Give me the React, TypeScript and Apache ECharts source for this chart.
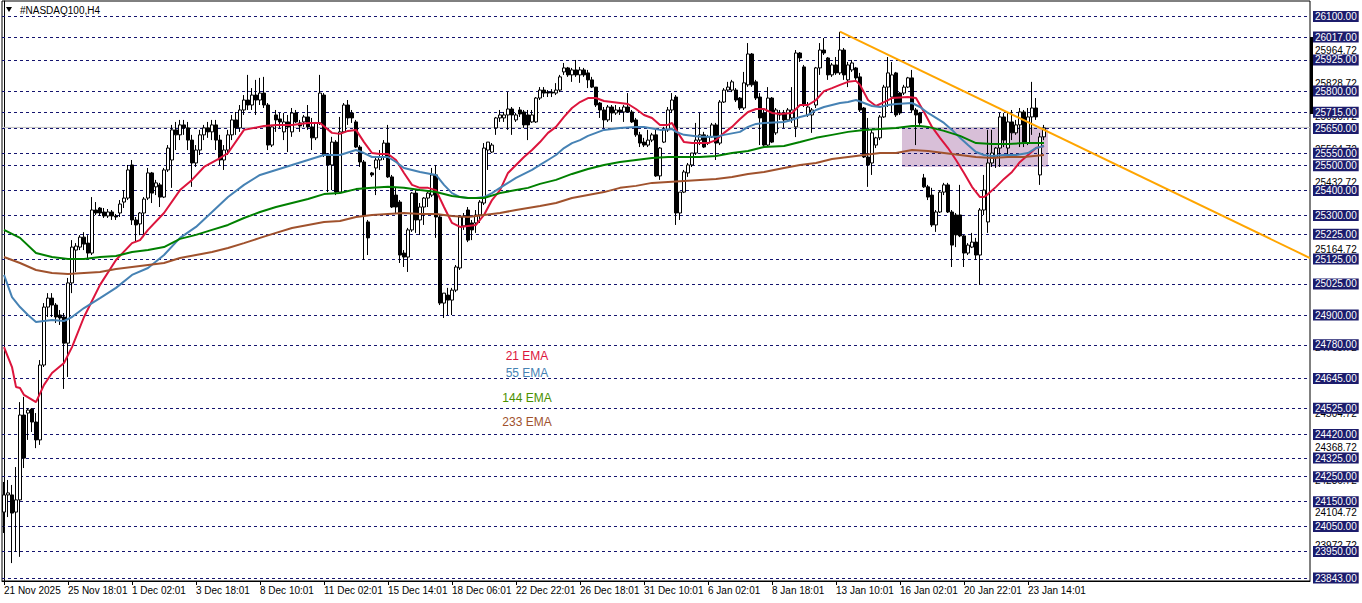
import React, { useEffect, useRef } from "react";
import * as echarts from "echarts";

const FONT = "Liberation Sans";

const xLabels = ["21 Nov 2025", "25 Nov 18:01", "1 Dec 02:01", "3 Dec 18:01", "8 Dec 10:01", "11 Dec 02:01", "15 Dec 14:01", "18 Dec 06:01", "22 Dec 22:01", "26 Dec 18:01", "31 Dec 10:01", "6 Jan 02:01", "8 Jan 18:01", "13 Jan 10:01", "16 Jan 02:01", "20 Jan 22:01", "23 Jan 14:01"];

const opens = [24108,24177,24177,24108,24157,24498,24506,24522,24470,24398,24699,24932,24968,24940,24900,24892,24787,25029,25161,25173,25213,25189,25149,25322,25330,25314,25298,25314,25298,25310,25354,25370,25503,25282,25266,25310,25370,25471,25415,25423,25374,25483,25523,25644,25624,25664,25652,25603,25511,25563,25624,25652,25636,25664,25603,25523,25563,25624,25684,25652,25724,25764,25744,25784,25764,25792,25744,25583,25704,25688,25636,25676,25636,25712,25672,25676,25696,25656,25612,25672,25784,25543,25503,25595,25394,25636,25744,25712,25676,25575,25515,25274,25471,25491,25523,25535,25591,25455,25382,25354,25149,25133,25242,25390,25282,25334,25370,25382,25463,25294,24948,24980,24960,25000,25089,25258,25322,25270,25270,25302,25350,25563,25555,25652,25692,25692,25704,25728,25684,25724,25716,25704,25676,25676,25772,25804,25796,25796,25792,25804,25877,25893,25865,25885,25865,25885,25873,25845,25816,25752,25724,25684,25736,25712,25724,25716,25736,25716,25684,25624,25595,25583,25603,25624,25459,25595,25644,25724,25776,25310,25394,25471,25503,25551,25603,25624,25591,25616,25664,25591,25756,25804,25804,25804,25772,25732,25825,25949,25837,25776,25712,25583,25772,25632,25704,25712,25684,25692,25656,25953,25897,25704,25704,25744,25893,25965,25933,25865,25905,25873,25965,25845,25885,25893,25857,25732,25535,25511,25583,25612,25696,25816,25776,25873,25792,25792,25816,25853,25724,25712,25451,25415,25382,25262,25314,25394,25423,25314,25302,25302,25218,25149,25173,25193,25141,25322,25274,25511,25535,25571,25696,25571,25676,25632,25664,25716,25591,25696,25732,25463,25616];
const closes = [24177,24185,24104,24157,24498,24325,24518,24470,24398,24699,24932,24968,24940,24892,24888,24787,25029,25173,25177,25213,25185,25149,25322,25310,25310,25298,25314,25298,25294,25346,25370,25483,25282,25262,25310,25366,25471,25390,25431,25374,25483,25571,25644,25624,25664,25652,25603,25511,25563,25624,25652,25636,25664,25603,25523,25563,25624,25684,25652,25724,25764,25744,25784,25764,25792,25744,25583,25656,25684,25676,25676,25656,25712,25676,25660,25696,25656,25612,25672,25792,25543,25503,25595,25394,25636,25744,25692,25692,25575,25515,25302,25210,25463,25523,25535,25591,25455,25334,25334,25141,25133,25242,25390,25282,25334,25370,25390,25463,25294,24948,24988,24960,25000,25093,25294,25298,25201,25242,25302,25354,25571,25595,25583,25692,25704,25704,25728,25704,25704,25708,25664,25664,25704,25772,25804,25792,25792,25792,25804,25857,25893,25865,25885,25865,25885,25865,25845,25816,25744,25724,25684,25736,25712,25724,25716,25736,25716,25676,25624,25591,25583,25603,25624,25459,25571,25644,25724,25764,25310,25394,25475,25503,25551,25603,25624,25575,25616,25664,25591,25756,25804,25816,25837,25764,25732,25833,25949,25825,25772,25692,25583,25772,25595,25724,25712,25684,25724,25724,25953,25933,25744,25736,25724,25893,25965,25953,25865,25905,25873,25965,25865,25905,25913,25853,25724,25535,25503,25632,25612,25696,25816,25873,25865,25704,25712,25816,25853,25724,25704,25672,25415,25374,25262,25314,25394,25423,25314,25181,25222,25218,25149,25181,25193,25141,25322,25402,25511,25551,25571,25696,25603,25676,25632,25664,25716,25591,25696,25732,25696,25616,25652];
const highs = [24229,24237,24217,24289,24550,24571,24526,24526,24506,24719,24948,24988,24988,24948,24920,24908,25049,25201,25189,25221,25233,25221,25374,25354,25334,25330,25326,25322,25306,25362,25402,25503,25523,25294,25314,25374,25491,25475,25443,25431,25491,25583,25664,25676,25684,25684,25676,25624,25583,25644,25664,25676,25684,25684,25624,25583,25644,25704,25716,25744,25784,25865,25812,25845,25853,25857,25752,25664,25724,25712,25712,25704,25732,25724,25684,25704,25744,25692,25676,25865,25792,25551,25616,25603,25696,25752,25764,25724,25684,25583,25523,25282,25475,25531,25563,25603,25664,25463,25411,25362,25161,25250,25394,25402,25350,25374,25394,25491,25503,25302,24988,25009,25009,25101,25302,25310,25334,25282,25322,25362,25591,25595,25591,25696,25724,25716,25796,25736,25712,25736,25724,25724,25724,25776,25816,25816,25804,25808,25832,25865,25913,25897,25893,25925,25897,25893,25885,25857,25816,25756,25736,25744,25744,25744,25736,25744,25792,25724,25692,25636,25612,25644,25632,25644,25575,25656,25736,25792,25784,25394,25483,25511,25551,25672,25712,25636,25624,25672,25672,25764,25812,25837,25845,25812,25776,25877,25993,25953,25845,25792,25724,25816,25776,25732,25724,25724,25732,25816,25965,25957,25905,25756,25732,25897,25993,26013,25937,25913,25937,26038,25973,25917,25925,25897,25873,25736,25692,25644,25616,25704,25825,25937,25917,25877,25796,25825,25857,25885,25732,25716,25467,25423,25411,25322,25402,25431,25431,25322,25310,25423,25222,25189,25230,25210,25330,25463,25644,25644,25575,25712,25712,25712,25724,25684,25732,25724,25732,25837,25772,25632,25664];
const lows = [24024,24088,23903,23948,23928,24285,24398,24430,24365,24378,24691,24892,24892,24868,24860,24603,24651,24988,25073,25161,25161,25129,25141,25302,25298,25290,25290,25282,25282,25294,25330,25362,25262,25193,25221,25213,25362,25350,25382,25334,25370,25475,25411,25563,25603,25624,25563,25415,25495,25543,25603,25612,25603,25563,25503,25483,25543,25603,25624,25636,25704,25724,25724,25704,25744,25732,25563,25575,25636,25652,25603,25555,25616,25672,25636,25656,25644,25563,25603,25664,25535,25394,25402,25382,25390,25632,25664,25672,25571,25495,25121,25141,25455,25382,25483,25523,25451,25330,25310,25109,25093,25073,25234,25230,25222,25262,25334,25374,25210,24940,24888,24900,24900,24992,25081,25242,25193,25201,25230,25270,25342,25483,25551,25624,25676,25676,25644,25624,25676,25696,25652,25603,25672,25672,25764,25776,25776,25776,25784,25796,25865,25857,25837,25857,25833,25857,25812,25812,25736,25692,25652,25676,25676,25704,25704,25676,25712,25672,25616,25575,25575,25575,25595,25455,25443,25591,25636,25712,25262,25282,25390,25455,25495,25543,25583,25571,25583,25612,25523,25583,25752,25796,25796,25756,25724,25724,25817,25817,25764,25583,25575,25575,25591,25624,25684,25652,25676,25672,25615,25917,25736,25696,25632,25732,25865,25945,25845,25857,25865,25865,25845,25816,25877,25845,25716,25531,25415,25463,25571,25603,25692,25736,25712,25696,25704,25784,25812,25712,25583,25664,25411,25362,25254,25234,25310,25382,25310,25093,25173,25213,25093,25141,25169,25121,25021,25302,25230,25495,25491,25495,25575,25535,25603,25624,25575,25575,25583,25624,25684,25423,25603];

const ema21 = [[0,24771],[2,24691],[3,24611],[4,24607],[5,24579],[8,24550],[10,24619],[12,24667],[15,24707],[17,24771],[20,24892],[24,25021],[28,25121],[32,25189],[34,25201],[36,25242],[40,25310],[44,25402],[47,25443],[50,25495],[54,25531],[56,25551],[60,25644],[65,25660],[68,25664],[72,25664],[76,25672],[79,25672],[82,25632],[84,25628],[86,25640],[88,25644],[90,25595],[92,25551],[94,25547],[96,25547],[98,25523],[100,25471],[102,25423],[104,25411],[106,25411],[108,25402],[110,25334],[112,25270],[114,25254],[116,25258],[118,25262],[120,25302],[122,25362],[124,25402],[126,25471],[128,25503],[130,25535],[132,25563],[134,25595],[136,25632],[138,25656],[140,25696],[142,25732],[144,25756],[146,25772],[148,25772],[150,25760],[152,25756],[154,25752],[156,25748],[158,25728],[160,25704],[162,25692],[164,25664],[166,25664],[167,25672],[168,25644],[170,25595],[172,25591],[176,25591],[178,25603],[180,25632],[182,25656],[184,25688],[186,25716],[188,25728],[190,25728],[192,25712],[194,25708],[197,25712],[199,25744],[201,25744],[203,25764],[205,25800],[207,25812],[209,25825],[211,25837],[213,25841],[214,25825],[216,25764],[218,25740],[220,25756],[222,25772],[226,25776],[228,25772],[230,25716],[232,25656],[234,25612],[236,25571],[238,25523],[240,25471],[242,25415],[244,25374],[245,25374],[246,25386],[248,25415],[250,25447],[252,25475],[254,25515],[256,25543],[258,25571],[260,25579]];
const ema55 = [[0,25061],[2,24972],[4,24932],[6,24900],[8,24872],[10,24876],[12,24880],[15,24876],[17,24892],[20,24928],[24,24968],[28,25009],[32,25061],[36,25089],[40,25141],[44,25210],[48,25254],[52,25314],[56,25374],[60,25423],[64,25463],[68,25483],[72,25503],[76,25523],[80,25543],[84,25543],[88,25563],[90,25551],[92,25535],[96,25535],[98,25515],[100,25491],[104,25475],[108,25463],[110,25423],[112,25390],[114,25374],[116,25370],[118,25370],[120,25374],[122,25390],[124,25411],[126,25431],[128,25451],[130,25467],[132,25483],[134,25503],[136,25523],[138,25543],[140,25571],[142,25591],[144,25603],[146,25620],[148,25632],[150,25644],[154,25652],[158,25656],[160,25656],[164,25644],[167,25648],[168,25636],[170,25624],[174,25616],[178,25616],[180,25624],[184,25636],[186,25656],[188,25668],[190,25672],[195,25676],[197,25684],[199,25696],[201,25704],[203,25724],[205,25736],[207,25744],[209,25752],[211,25756],[213,25764],[215,25752],[217,25740],[219,25736],[221,25744],[223,25748],[227,25752],[229,25736],[231,25712],[233,25692],[235,25672],[237,25644],[239,25612],[241,25583],[243,25555],[245,25543],[247,25539],[250,25543],[253,25543],[256,25551],[258,25571],[260,25579]];
const ema144 = [[0,25242],[4,25210],[8,25149],[12,25133],[16,25125],[20,25125],[24,25133],[28,25137],[32,25153],[36,25161],[40,25173],[44,25206],[48,25222],[52,25242],[56,25262],[60,25290],[64,25314],[68,25334],[72,25350],[76,25366],[80,25386],[84,25390],[88,25406],[92,25411],[96,25415],[100,25411],[104,25402],[108,25394],[112,25378],[116,25370],[120,25370],[124,25390],[128,25402],[131,25411],[134,25427],[138,25443],[142,25467],[146,25487],[150,25503],[154,25515],[158,25523],[162,25531],[166,25535],[174,25535],[178,25539],[182,25551],[186,25559],[190,25575],[195,25579],[199,25595],[203,25612],[207,25624],[211,25636],[215,25644],[219,25648],[223,25652],[227,25660],[229,25660],[231,25656],[235,25640],[239,25620],[243,25591],[247,25587],[251,25587],[255,25591],[260,25591]];
const ema233 = [[0,25133],[4,25109],[8,25081],[12,25069],[16,25065],[20,25069],[24,25073],[28,25085],[32,25093],[36,25101],[40,25109],[44,25129],[48,25141],[52,25153],[56,25169],[60,25189],[64,25210],[68,25230],[72,25250],[76,25262],[80,25274],[84,25278],[88,25294],[92,25302],[96,25306],[100,25310],[104,25306],[108,25306],[112,25298],[116,25294],[120,25302],[124,25310],[128,25322],[131,25330],[134,25338],[138,25350],[142,25370],[146,25382],[150,25394],[154,25411],[158,25419],[162,25431],[166,25435],[170,25439],[174,25443],[178,25447],[182,25455],[186,25467],[190,25475],[195,25491],[199,25503],[203,25511],[207,25527],[211,25535],[215,25543],[219,25551],[223,25551],[227,25563],[231,25559],[235,25551],[239,25543],[243,25535],[247,25531],[251,25535],[255,25535],[260,25543]];

const levels = [26100, 26017, 25925, 25800, 25715, 25650, 25550, 25500, 25400, 25300, 25225, 25125, 25025, 24900, 24780, 24645, 24525, 24420, 24325, 24250, 24150, 24050, 23950, 23843];
const scaleLabels = [25964.72, 25828.72, 25696.72, 25564.72, 25432.72, 25164.72, 24768.72, 24636.72, 24504.72, 24368.72, 24236.72, 24104.72, 23972.72];
const trendLine = [[209, 26039], [326.5, 25129]];
const zoneX = [224.5, 261];
const zoneY = [25495, 25655];
const bidPrice = 25654;

const emaNames = ["21 EMA", "55 EMA", "144 EMA", "233 EMA"];
const emaColors = ["#dc143c", "#4682b4", "#008000", "#a0522d"];
const legendColors = ["#dc143c", "#4682b4", "#4a9000", "#a0522d"];

const N_CAT = 327;
const categories = Array.from({ length: N_CAT }, (_, i) => String(i));
const CLEAR = "rgba(0,0,0,0)";

function buildOption() {
  const candleData = opens.map((o, i) => [o, closes[i], lows[i], highs[i]]);
  const emaSeries = [ema21, ema55, ema144, ema233].map((d, k) => ({
    type: "line",
    name: emaNames[k],
    data: d,
    xAxisIndex: 0,
    symbol: "none",
    connectNulls: true,
    lineStyle: { color: emaColors[k], width: 2 },
    itemStyle: { color: emaColors[k] },
    z: 6,
    silent: true,
  }));
  const showIdx = (i: number) => i % 16 === 0 && i / 16 < xLabels.length;
  return {
    animation: false,
    backgroundColor: "#ffffff",
    grid: { left: 2, right: 52, top: 1, bottom: 22, show: true, borderColor: "#000", borderWidth: 1, backgroundColor: "#fff" },
    xAxis: [
      {
        type: "category",
        data: categories,
        boundaryGap: true,
        axisLine: { show: true, lineStyle: { color: "#000" } },
        axisTick: { show: true, alignWithLabel: true, interval: (i: number) => showIdx(i), length: 4, lineStyle: { color: "#000" } },
        axisLabel: {
          show: true,
          interval: (i: number) => showIdx(i),
          formatter: (_v: string, i: number) => (showIdx(i) ? xLabels[i / 16] : ""),
          align: "left",
          margin: 4,
          color: "#000",
          fontSize: 10,
          fontFamily: FONT,
        },
        splitLine: { show: false },
      },
      { type: "value", min: -0.5, max: 326.5, show: false },
    ],
    yAxis: {
      type: "value",
      min: 23831,
      max: 26162,
      position: "right",
      axisLine: { show: true, lineStyle: { color: "#000" } },
      axisTick: { show: false },
      axisLabel: { show: false },
      splitLine: { show: false },
    },
    series: [
      {
        type: "line",
        xAxisIndex: 1,
        data: [[zoneX[0], zoneY[0]], [zoneX[1], zoneY[1]]],
        symbol: "none",
        lineStyle: { color: CLEAR, width: 0 },
        silent: true,
        z: 1,
        markArea: {
          silent: true,
          itemStyle: { color: "#d8bfd8" },
          data: [[{ xAxis: zoneX[0], yAxis: zoneY[1] }, { xAxis: zoneX[1], yAxis: zoneY[0] }]],
        },
      },
      {
        type: "line",
        xAxisIndex: 1,
        data: [[-0.5, levels[0]]],
        symbol: "none",
        lineStyle: { color: CLEAR, width: 0 },
        silent: true,
        z: 2,
        markLine: {
          silent: true,
          symbol: ["none", "none"],
          label: { show: false },
          lineStyle: { color: "#14146e", width: 1, type: [3, 3] },
          data: levels.map((v) => ({ yAxis: v })),
        },
      },
      {
        type: "line",
        xAxisIndex: 1,
        data: [[-0.5, bidPrice], [326.5, bidPrice]],
        symbol: "none",
        lineStyle: { color: "#c0c0c0", width: 1 },
        silent: true,
        z: 3,
      },
      {
        type: "candlestick",
        xAxisIndex: 0,
        data: candleData,
        barWidth: 3,
        itemStyle: { color: "#ffffff", color0: "#000000", borderColor: "#000000", borderColor0: "#000000", borderWidth: 1 },
        z: 5,
        silent: true,
      },
      ...emaSeries,
      {
        type: "line",
        xAxisIndex: 1,
        data: trendLine,
        symbol: "none",
        lineStyle: { color: "#ffa500", width: 2 },
        silent: true,
        z: 7,
      },
      {
        type: "line",
        xAxisIndex: 1,
        data: [[-0.5, scaleLabels[0]]],
        symbol: "none",
        lineStyle: { color: CLEAR, width: 0 },
        silent: true,
        clip: false,
        z: 8,
        markLine: {
          silent: true,
          symbol: ["none", "none"],
          lineStyle: { color: CLEAR, width: 0, type: "solid" },
          label: { show: true, position: "end", distance: 5, formatter: (p: any) => Number(p.value).toFixed(2), color: "#000", fontSize: 10, fontFamily: FONT },
          data: scaleLabels.map((v) => ({ yAxis: v })),
        },
      },
      {
        type: "line",
        xAxisIndex: 1,
        data: [[-0.5, levels[0]]],
        symbol: "none",
        lineStyle: { color: CLEAR, width: 0 },
        silent: true,
        clip: false,
        z: 9,
        markLine: {
          silent: true,
          symbol: ["none", "none"],
          lineStyle: { color: CLEAR, width: 0, type: "solid" },
          label: {
            show: true,
            position: "end",
            distance: 3,
            formatter: (p: any) => Number(p.value).toFixed(2),
            color: "#fff",
            backgroundColor: "#1c1c6c",
            padding: [1, 2, 0, 2],
            fontSize: 10,
            fontFamily: FONT,
          },
          data: levels.map((v) => ({ yAxis: v })),
        },
      },
    ],
    graphic: [
      { type: "polygon", shape: { points: [[6, 7], [12, 7], [9, 12]] }, style: { fill: "#000" }, z: 20 },
      { type: "text", x: 20, y: 10, style: { text: "#NASDAQ100,H4", fill: "#000", font: `10px '${FONT}'`, textVerticalAlign: "middle" }, z: 20 },
      { type: "rect", shape: { x: 1310, y: 37, width: 3, height: 77 }, style: { fill: "#000" }, z: 20 },
      ...emaNames.map((t, k) => ({
        type: "text",
        x: 527,
        y: [356, 373, 398, 422][k],
        style: { text: t, fill: legendColors[k], font: `12px '${FONT}'`, textAlign: "center", textVerticalAlign: "middle" },
        z: 20,
      })),
    ],
  };
}

export default function App() {
  const ref = useRef<HTMLDivElement>(null);
  useEffect(() => {
    if (!ref.current) return;
    const chart = echarts.init(ref.current, null, { renderer: "svg" });
    chart.setOption(buildOption() as any);
    return () => chart.dispose();
  }, []);
  return <div ref={ref} style={{ position: "fixed", left: 0, top: 0, width: 1362, height: 603, background: "#fff" }} />;
}
